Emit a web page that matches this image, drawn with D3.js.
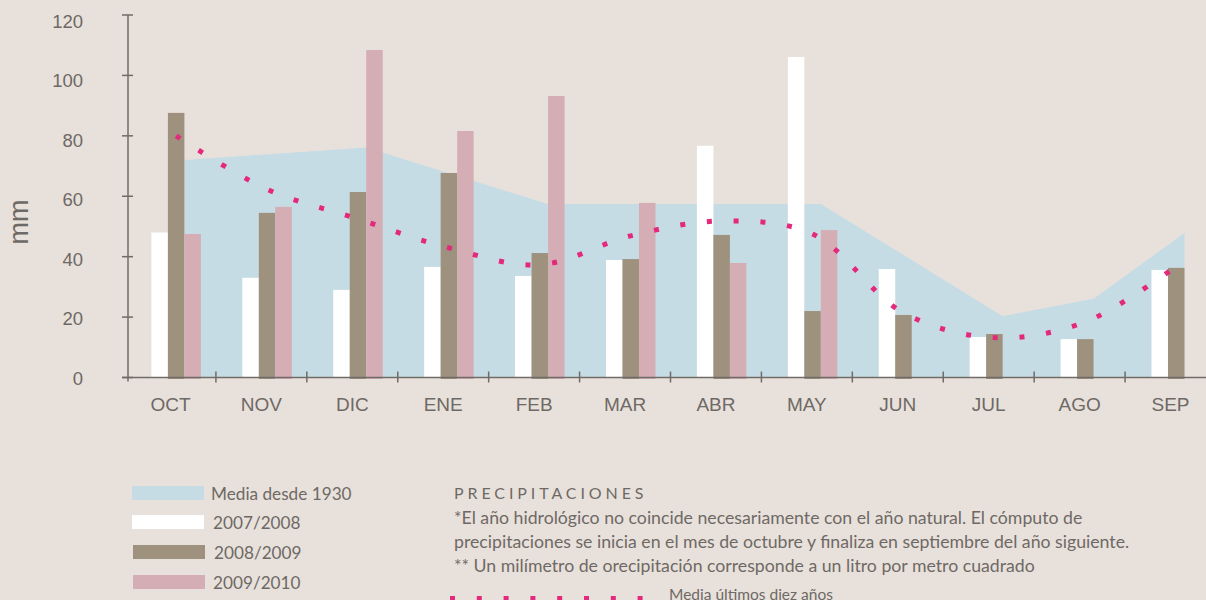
<!DOCTYPE html>
<html><head><meta charset="utf-8">
<script src="https://cdn.jsdelivr.net/npm/d3@7"></script>
<style>
html,body{margin:0;padding:0;background:#e8e1db;}
svg{display:block;}
</style></head>
<body>
<svg id="c" width="1206" height="600"></svg>
<script>
const months = ["OCT","NOV","DIC","ENE","FEB","MAR","ABR","MAY","JUN","JUL","AGO","SEP"];
const yTicks = [0,20,40,60,80,100,120];
const seriesNames = ["2007/2008","2008/2009","2009/2010"];
const s0708 = [48, 33, 29, 36.6, 33.6, 38.9, 76.7, 106.1, 35.9, 13.4, 12.7, 35.6];
const s0809 = [87.6, 54.5, 61.4, 67.7, 41.2, 39.2, 47.2, 22, 20.7, 14.4, 12.7, 36.3];
const s0910 = [47.5, 56.5, 108.4, 81.6, 93.2, 57.8, 37.9, 48.8, null, null, null, null];
const media1930 = [72, 74.1, 76.1, 66.8, 57.4, 57.4, 57.4, 57.4, 38.9, 20.3, 26.1, 47.8];
const media10 = [80, 62.3, 52.5, 42.9, 37.3, 46.9, 51.8, 47.5, 21.4, 13.2, 18.4, 36.8];
const legendNames = ["Media desde 1930","2007/2008","2008/2009","2009/2010"];
const noteTitle = "PRECIPITACIONES";
const noteLines = [
  "*El año hidrológico no coincide necesariamente con el año natural. El cómputo de",
  "precipitaciones se inicia en el mes de octubre y finaliza en septiembre del año siguiente.",
  "** Un milímetro de orecipitación corresponde a un litro por metro cuadrado"
];
const lineLegend = "Media últimos diez años";

const colors = {"2007/2008":"#ffffff","2008/2009":"#9e917e","2009/2010":"#d4aeb4"};
const areaColor = "#c6dce5", dotColor = "#e4287b", axisColor = "#6f6b67", textColor = "#6e6965";

const svg = d3.select("#c");
const x = d3.scaleBand().domain(months).range([125, 1216]);
const y = d3.scaleLinear().domain([0,120]).range([377.5, 15]);
const yLab = d3.scaleLinear().domain([0,120]).range([384.5, 27.5]);
const groupOff = 26.4, barW = 16.5;
const x1 = d3.scaleBand().domain(seriesNames).range([groupOff, groupOff + 3*barW]);

svg.append("rect").attr("width",1206).attr("height",600).attr("fill","#e8e1db");

// area
const areaData = months.map((m,i)=>({m, v: media1930[i]}));
svg.append("path").datum(areaData)
  .attr("fill", areaColor)
  .attr("d", d3.area()
     .x(d => x(d.m) + x1("2009/2010"))
     .y0(y(0)).y1(d => y(d.v)));

// bars
const data = [s0708, s0809, s0910];
seriesNames.forEach((s, k) => {
  const vals = months.map((m,i)=>({m, v: data[k][i]})).filter(d => d.v != null);
  svg.append("g").selectAll("rect").data(vals).join("rect")
    .attr("x", d => x(d.m) + x1(s))
    .attr("width", x1.bandwidth())
    .attr("y", d => y(d.v))
    .attr("height", d => y(0) - y(d.v) + (k > 0 ? 1.5 : 0))
    .attr("fill", colors[s]);
});

// axes
const ax = svg.append("g").attr("stroke", axisColor).attr("stroke-width", 1.5);
ax.append("line").attr("x1",122).attr("x2",1206).attr("y1",y(0)).attr("y2",y(0));
ax.append("line").attr("x1",128).attr("x2",128).attr("y1",y(120)).attr("y2",y(0)+4);
ax.selectAll(".yt").data(yTicks).join("line")
  .attr("x1",122).attr("x2",133).attr("y1",d=>y(d)).attr("y2",d=>y(d));
ax.selectAll(".xt").data(months.slice(1)).join("line")
  .attr("x1",d=>x(d)).attr("x2",d=>x(d)).attr("y1",y(0)-6).attr("y2",y(0)+5);

svg.selectAll(".yl").data(yTicks).join("text")
  .attr("x", 83).attr("y", d => yLab(d))
  .attr("text-anchor","end")
  .attr("font-family","'Liberation Sans', Arial, sans-serif")
  .attr("font-size", 18.5).attr("fill", textColor)
  .text(d => d);

svg.selectAll(".xl").data(months).join("text")
  .attr("x", d => x(d) + x.bandwidth()/2).attr("y", 410.5)
  .attr("text-anchor","middle")
  .attr("font-family","'Liberation Sans', Arial, sans-serif")
  .attr("font-size", 19).attr("fill", textColor)
  .text(d => d);

svg.append("text").attr("transform","translate(28,222) rotate(-90)")
  .attr("text-anchor","middle")
  .attr("font-family","'Liberation Sans', Arial, sans-serif")
  .attr("font-size", 27).attr("fill", textColor).text("mm");

// dotted line
const lineData = months.map((m,i)=>({m, v: media10[i]}));
svg.append("path").datum(lineData)
  .attr("fill","none").attr("stroke", dotColor).attr("stroke-width", 5)
  .attr("stroke-dasharray","5,21.8")
  .attr("d", d3.line()
     .x(d => x(d.m) + x1("2008/2009") + barW/2)
     .y(d => y(d.v))
     .curve(d3.curveCatmullRom.alpha(0.5)));

// legend
const legFont = "Lato, 'Open Sans', sans-serif";
const legRects = [areaColor, colors["2007/2008"], colors["2008/2009"], colors["2009/2010"]];
const legY = [486, 515, 545, 575];
const legX = [132, 132, 133, 133];
const legTX = [211, 213, 214, 213];
legendNames.forEach((n,i)=>{
  svg.append("rect").attr("x",legX[i]).attr("y",legY[i]).attr("width",72).attr("height",14).attr("fill",legRects[i]);
  svg.append("text").attr("x",legTX[i]).attr("y",legY[i]+13.5)
    .attr("font-family",legFont).attr("font-size",17.2).attr("fill",textColor).text(n);
});

svg.append("text").attr("x",454).attr("y",499)
  .attr("font-family",legFont).attr("font-size",16).attr("letter-spacing","3.9px")
  .attr("fill",textColor).text(noteTitle);
noteLines.forEach((t,i)=>{
  svg.append("text").attr("x",454).attr("y",523.5 + i*24.2)
    .attr("font-family",legFont).attr("font-size",17.7).attr("fill",textColor).text(t);
});

svg.append("line").attr("x1",450).attr("x2",646).attr("y1",599).attr("y2",599)
  .attr("stroke",dotColor).attr("stroke-width",6).attr("stroke-dasharray","5,21.8");
svg.append("text").attr("x",669).attr("y",599.5)
  .attr("font-family",legFont).attr("font-size",15.5).attr("fill",textColor).text(lineLegend);
</script>
</body></html>
